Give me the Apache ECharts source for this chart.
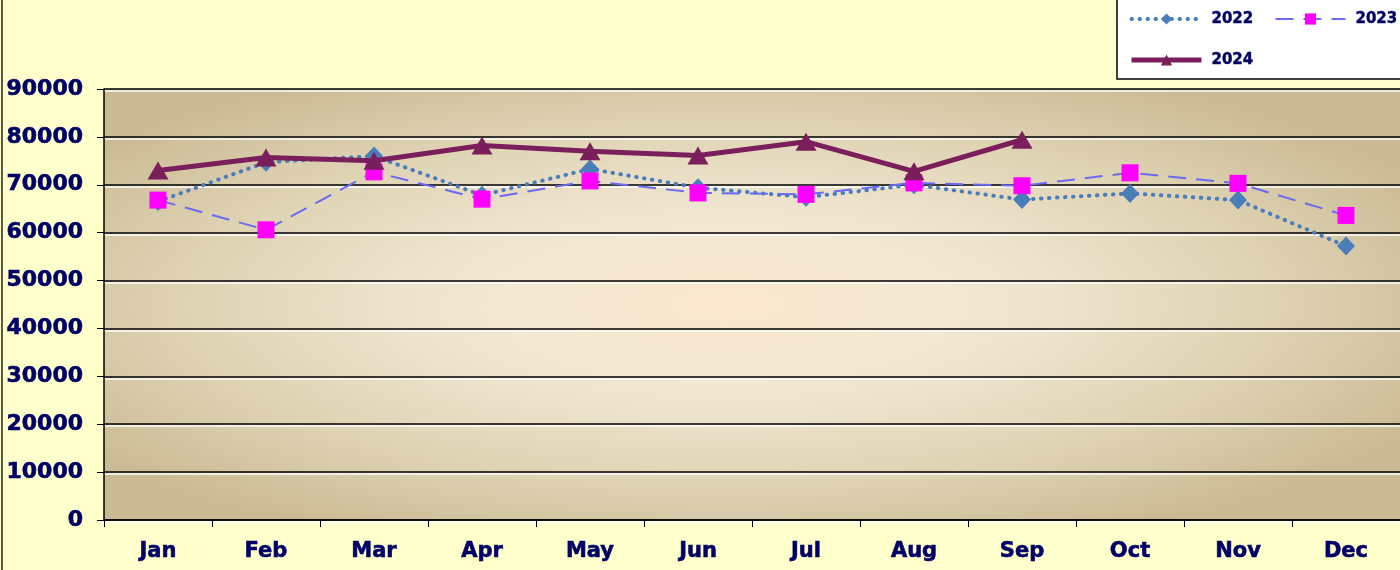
<!DOCTYPE html>
<html>
<head>
<meta charset="utf-8">
<script src="https://cdn.jsdelivr.net/npm/echarts@6/dist/echarts.min.js"></script>
<style>html,body{margin:0;padding:0;background:#FFFFCC;}#c{width:1400px;height:570px;}</style>
</head>
<body>
<div id="c"></div>
<script>
const months = ['Jan','Feb','Mar','Apr','May','Jun','Jul','Aug','Sep','Oct','Nov','Dec'];
const seriesNames = ['2022','2023','2024'];
const values2022 = [66500, 74700, 76000, 67800, 73300, 69400, 67400, 70000, 66900, 68200, 66800, 57200];
const values2023 = [66800, 60600, 72700, 67000, 70800, 68300, 68000, 70400, 69800, 72500, 70300, 63600];
const values2024 = [73000, 75700, 75000, 78200, 77000, 76100, 79000, 72800, 79400];
const yMin = 0, yMax = 90000, yStep = 10000;

const navy = '#000066';
const font = '"DejaVu Sans", Verdana, sans-serif';
const heavy = {textBorderColor: navy, textBorderWidth: 0.6};

const chart = echarts.init(document.getElementById('c'), null, {renderer: 'canvas'});
const option = {
  backgroundColor: '#FFFFCC',
  animation: false,
  grid: {left: 104, right: 0, top: 89, bottom: 50, containLabel: false},
  legend: {
    left: 1117, top: -9, width: 280,
    padding: [18, 60, 9, 12],
    backgroundColor: '#FFFFFF',
    borderColor: '#000000', borderWidth: 1.5,
    itemWidth: 70, itemHeight: 14, itemGap: 21,
    textStyle: {color: navy, fontWeight: 'bold', fontSize: 15, lineHeight: 20, fontFamily: font,
      textBorderColor: navy, textBorderWidth: 0.4, padding: [0, 0, 0, 5]},
    data: [
      {name: seriesNames[0], lineStyle: {width: 4}},
      {name: seriesNames[1], lineStyle: {width: 2}},
      {name: seriesNames[2], lineStyle: {width: 5}}
    ]
  },
  xAxis: {
    type: 'category', data: months, boundaryGap: true,
    axisLine: {lineStyle: {color: '#000', width: 1.5}},
    axisTick: {show: true, length: 7, lineStyle: {color: '#000', width: 1}},
    axisLabel: Object.assign({color: navy, fontWeight: 'bold', fontSize: 21, fontFamily: font, margin: 21}, heavy),
    splitLine: {show: false}
  },
  yAxis: {
    type: 'value', min: yMin, max: yMax, interval: yStep,
    axisLine: {show: true, lineStyle: {color: '#000', width: 1.5}},
    axisTick: {show: true, length: 7, lineStyle: {color: '#000', width: 1}},
    axisLabel: Object.assign({color: navy, fontWeight: 'bold', fontSize: 22, fontFamily: font, margin: 21,
      formatter: function (v) { return String(v); }}, heavy),
    splitLine: {show: true, lineStyle: {color: '#000', width: 1.5, shadowColor: 'rgba(255,255,255,0.95)', shadowOffsetY: 2, shadowBlur: 0}}
  },
  series: [
    {
      name: seriesNames[0], type: 'line', data: values2022,
      symbol: 'diamond', symbolSize: [18, 19],
      itemStyle: {color: '#4A7EBB'},
      lineStyle: {color: '#4A7EBB', width: 4, type: [0.5, 7.5], cap: 'round'},
      z: 3
    },
    {
      name: seriesNames[1], type: 'line', data: values2023,
      symbol: 'rect', symbolSize: [17, 17],
      itemStyle: {color: '#FF00FF'},
      lineStyle: {color: '#6A6AF2', width: 2, type: [18, 10]},
      z: 4
    },
    {
      name: seriesNames[2], type: 'line', data: values2024,
      symbol: 'triangle', symbolSize: [21, 18],
      itemStyle: {color: '#7A1F5C'},
      lineStyle: {color: '#7A1F5C', width: 5},
      z: 5
    }
  ]
};
chart.setOption(option);

// plot-area backdrop shaped from the grid rectangle the library computed
const rect = chart.getModel().getComponent('grid').coordinateSystem.getRect();
const k = rect.height / rect.width;
chart.setOption({
  graphic: [
    {
      type: 'rect', silent: true, z: -10,
      x: rect.x, y: rect.y, scaleY: k,
      shape: {x: 0, y: 0, width: rect.width, height: rect.width},
      style: {
        fill: new echarts.graphic.RadialGradient(0.48, 0.5, 0.6, [
          {offset: 0, color: '#FBE8CF'},
          {offset: 0.35, color: '#F1E7D1'},
          {offset: 0.7, color: '#DFD3B4'},
          {offset: 1, color: '#CBBB94'}
        ])
      }
    },
    {
      type: 'line', silent: true, z: 10,
      shape: {x1: 2, y1: 0, x2: 2, y2: 570},
      style: {stroke: '#222', lineWidth: 1.5}
    }
  ]
});
</script>
</body>
</html>
